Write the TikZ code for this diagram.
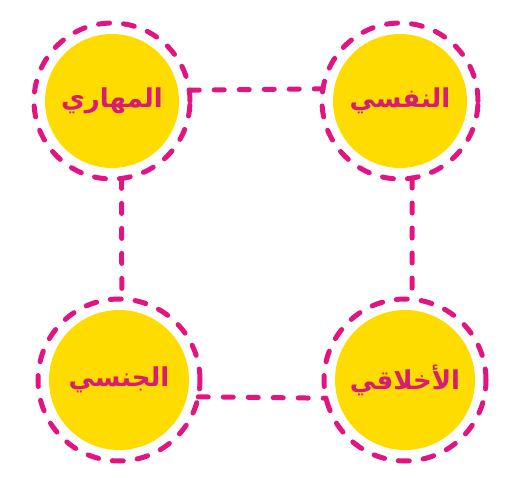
\documentclass[tikz,border=0pt]{standalone}
\usepackage{fontspec}
\newfontfamily\arabicfont[Script=Arabic]{DejaVu Sans}
\TeXXeTstate=1
\definecolor{ringpink}{HTML}{E2147F}
\definecolor{textpink}{HTML}{D81B74}
\definecolor{sunyellow}{HTML}{FFDC00}
\tikzset{
  ring/.style={circle, draw=ringpink, line width=5pt, dash pattern=on 11pt off 14pt, line cap=round, outer sep=0pt, inner sep=0pt},
  disc/.style={circle, fill=sunyellow, inner sep=0pt, text=textpink, font=\arabicfont\bfseries\fontsize{26}{30}\selectfont},
  link/.style={draw=ringpink, line width=5pt, dash pattern=on 10pt off 15pt, line cap=round}
}
\newcommand{\topic}[6]{\node[ring, minimum size=#4pt] (#1) at (#2,#3) {};\node[disc, minimum size=#5pt] (#1txt) at (#2,#3) {\beginR #6\endR};}
\newcommand{\link}[2]{\draw[link] (#1) -- (#2);}

\begin{document}
\begin{tikzpicture}[x=1pt,y=-1pt]
    \useasboundingbox (0,0) rectangle (522,478);
    \topic{skill}{112}{101}{156}{134}{المهاري}
    \topic{psych}{400}{101}{156}{134}{النفسي}
    \topic{sex}{119}{380}{162}{140}{الجنسي}
    \topic{moral}{405}{380}{162}{140}{الأخلاقي}
    \link{skill.8}{psych.171.9}\link{skill.-83.4}{sex.88.6}
    \link{psych.-81.9}{moral.85.8}\link{sex.-12.1}{moral.-167.9}
\end{tikzpicture}
\end{document}
